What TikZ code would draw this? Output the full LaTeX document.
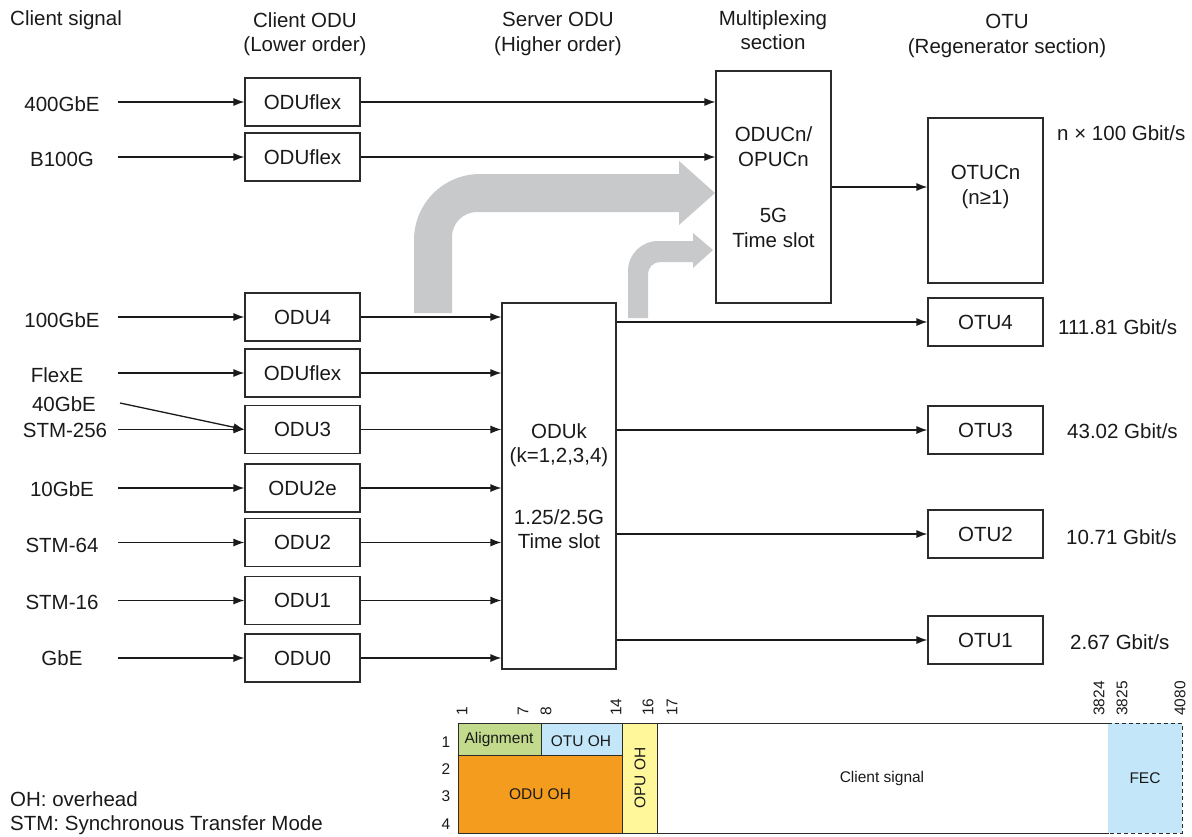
\documentclass[tikz,border=0pt]{standalone}
\usepackage{fontspec}
\setmainfont{Liberation Sans}
\usetikzlibrary{arrows.meta}
\definecolor{boxc}{HTML}{2B2B2B}
\definecolor{linec}{HTML}{1A1A1A}
\definecolor{grayc}{HTML}{C8C9CB}
\definecolor{algc}{HTML}{C2DA8C}
\definecolor{otuc}{HTML}{C3E6F8}
\definecolor{oduc}{HTML}{F49C1E}
\definecolor{opuc}{HTML}{FFF79A}
\definecolor{fecc}{HTML}{C3E6F8}
\begin{document}
\begin{tikzpicture}[x=1pt,y=-1pt,
  every node/.style={font=\fontsize{20.5}{24.5}\selectfont, text=linec},
  box/.style={draw=boxc, line width=1.1pt, minimum width=115pt, minimum height=48pt, inner sep=0pt},
  arr/.style={draw=linec, line width=1.3pt, -{Latex[length=11pt,width=8pt]}},
  lbl/.style={inner sep=0pt},
  smalltxt/.style={font=\fontsize{15.5}{18}\selectfont, inner sep=0pt},
  frm/.style={draw=boxc, line width=1pt},
]
\useasboundingbox (0,0) rectangle (1192,836);

% headers
\node[lbl, anchor=west] (h1) at (10,20) {Client signal};
\node[lbl, align=center, anchor=north] (h2) at (305,12) {Client ODU\\(Lower order)};
\node[lbl, align=center, anchor=north] (h3) at (558,12) {Server ODU\\(Higher order)};
\node[lbl, align=center, anchor=north] (h4) at (773,10) {Multiplexing\\section};
\node[lbl, align=center, anchor=north] (h5) at (1007,14) {OTU\\(Regenerator section)};

% gray arrows
\fill[grayc] (414,313) -- (414,240) .. controls (414,203.5) and (443.5,174) .. (480,174)
  -- (679,174) -- (679,161) -- (715,193) -- (679,225) -- (679,212) -- (477,212)
  .. controls (463.2,212) and (452,223.2) .. (452,237) -- (452,313) -- cycle;
\fill[grayc] (628,318) -- (628,271) .. controls (628,254.4) and (641.4,241) .. (658,241)
  -- (693,241) -- (693,233) -- (713,250) -- (693,268) -- (693,262) -- (660,262)
  .. controls (653.4,262) and (648,267.4) .. (648,274) -- (648,318) -- cycle;

% client signal labels
\node[lbl] (l400) at (62,104) {400GbE};
\node[lbl] (lb100) at (62,159) {B100G};
\node[lbl] (l100) at (62,320) {100GbE};
\node[lbl] (lflex) at (57,375) {FlexE};
\node[lbl] (l40) at (64,404) {40GbE};
\node[lbl] (l256) at (65,430) {STM-256};
\node[lbl] (l10) at (62,489) {10GbE};
\node[lbl] (l64) at (62,545) {STM-64};
\node[lbl] (l16) at (62,602) {STM-16};
\node[lbl] (lgbe) at (62,658) {GbE};

% client ODU boxes
\node[box] (fa) at (302.5,102) {ODUflex};
\node[box] (fb) at (302.5,157) {ODUflex};
\node[box] (o4) at (302.5,317) {ODU4};
\node[box] (ofx) at (302.5,373) {ODUflex};
\node[box] (o3) at (302.5,429.5) {ODU3};
\node[box] (o2e) at (302.5,488) {ODU2e};
\node[box] (o2) at (302.5,542.5) {ODU2};
\node[box] (o1) at (302.5,600.5) {ODU1};
\node[box] (o0) at (302.5,658) {ODU0};

% server and mux
\node[box, minimum width=114pt, minimum height=366pt, align=center] (srv) at (559,486)
  {ODUk\\(k=1,2,3,4)\\[37pt]1.25/2.5G\\Time slot};
\node[box, minimum height=232pt, align=center] (mux) at (773.5,187)
  {ODUCn/\\OPUCn\\[32pt]5G\\Time slot};

% OTU boxes
\node[box, minimum height=165pt] (otucn) at (985.5,200.5) {};
\node[lbl, align=center] (otucntxt) at (985.5,187) {OTUCn\\(n\char"2265 1)};
\node[box] (otu4) at (985.5,322) {OTU4};
\node[box] (otu3) at (985.5,430) {OTU3};
\node[box] (otu2) at (985.5,534) {OTU2};
\node[box] (otu1) at (985.5,640) {OTU1};

% rates
\node[lbl, anchor=west] (rn) at (1057,133) {n \char"00D7{} 100 Gbit/s};
\node[lbl, anchor=west] (r4) at (1058,327) {111.81 Gbit/s};
\node[lbl, anchor=west] (r3) at (1067,431) {43.02 Gbit/s};
\node[lbl, anchor=west] (r2) at (1066,537) {10.71 Gbit/s};
\node[lbl, anchor=west] (r1) at (1070,642) {2.67 Gbit/s};

% client arrows
\coordinate (s400) at (118,102);
\coordinate (sb100) at (118,157);
\coordinate (s100) at (118,317);
\coordinate (sflex) at (118,373);
\coordinate (s40) at (120,403);
\coordinate (s256) at (118,429.5);
\coordinate (s10) at (118,488);
\coordinate (s64) at (118,542.5);
\coordinate (s16) at (118,600.5);
\coordinate (sgbe) at (118,658);
\draw[arr] (s400) -- (fa.west);
\draw[arr] (sb100) -- (fb.west);
\draw[arr] (s100) -- (o4.west);
\draw[arr] (sflex) -- (ofx.west);
\draw[arr] (s40) -- (o3.west);
\draw[arr] (s256) -- (o3.west);
\draw[arr] (s10) -- (o2e.west);
\draw[arr] (s64) -- (o2.west);
\draw[arr] (s16) -- (o1.west);
\draw[arr] (sgbe) -- (o0.west);

% client ODU to server / mux
\draw[arr] (fa.east) -- (fa.east -| mux.west);
\draw[arr] (fb.east) -- (fb.east -| mux.west);
\foreach \b in {o4,ofx,o3,o2e,o2,o1,o0}
  \draw[arr] (\b.east) -- (\b.east -| srv.west);

% to OTU
\draw[arr] (mux.east) -- (mux.east -| otucn.west);
\foreach \b in {otu4,otu3,otu2,otu1}
  \draw[arr] (\b.west -| srv.east) -- (\b.west);

% frame structure
\filldraw[frm, fill=algc] (458,723) rectangle (541,755);
\filldraw[frm, fill=otuc] (541,723) rectangle (622,755);
\filldraw[frm, fill=oduc] (458,755) rectangle (622,833);
\filldraw[frm, fill=opuc] (622,723) rectangle (657,833);
\draw[frm] (657,723) rectangle (1108,833);
\fill[fecc] (1108,723) rectangle (1182,833);
\draw[frm, dash pattern=on 4pt off 3pt] (1108,723) -- (1182,723) -- (1182,833) -- (1108,833);

\node[smalltxt] (tal) at (499,739) {Alignment};
\node[smalltxt] (totu) at (581,741) {OTU OH};
\node[smalltxt] (todu) at (540,794) {ODU OH};
\node[smalltxt, rotate=90] (topu) at (640,778) {OPU OH};
\node[smalltxt] (tcs) at (882,778) {Client signal};
\node[smalltxt] (tfec) at (1145,778) {FEC};

\node[smalltxt] (row1) at (446,742) {1};
\node[smalltxt] (row2) at (446,769) {2};
\node[smalltxt] (row3) at (446,796) {3};
\node[smalltxt] (row4) at (446,824) {4};

\node[smalltxt, rotate=90, anchor=west] (c1) at (462,716) {1};
\node[smalltxt, rotate=90, anchor=west] (c7) at (523,716) {7};
\node[smalltxt, rotate=90, anchor=west] (c8) at (546,716) {8};
\node[smalltxt, rotate=90, anchor=west] (c14) at (616,716) {14};
\node[smalltxt, rotate=90, anchor=west] (c16) at (648,716) {16};
\node[smalltxt, rotate=90, anchor=west] (c17) at (672,716) {17};
\node[smalltxt, rotate=90, anchor=west] (c3824) at (1099,716) {3824};
\node[smalltxt, rotate=90, anchor=west] (c3825) at (1122,716) {3825};
\node[smalltxt, rotate=90, anchor=west] (c4080) at (1180,716) {4080};

% notes
\node[lbl, anchor=base west] (n1) at (10,806) {OH: overhead};
\node[lbl, anchor=base west] (n2) at (10,830) {STM: Synchronous Transfer Mode};
\end{tikzpicture}
\end{document}
